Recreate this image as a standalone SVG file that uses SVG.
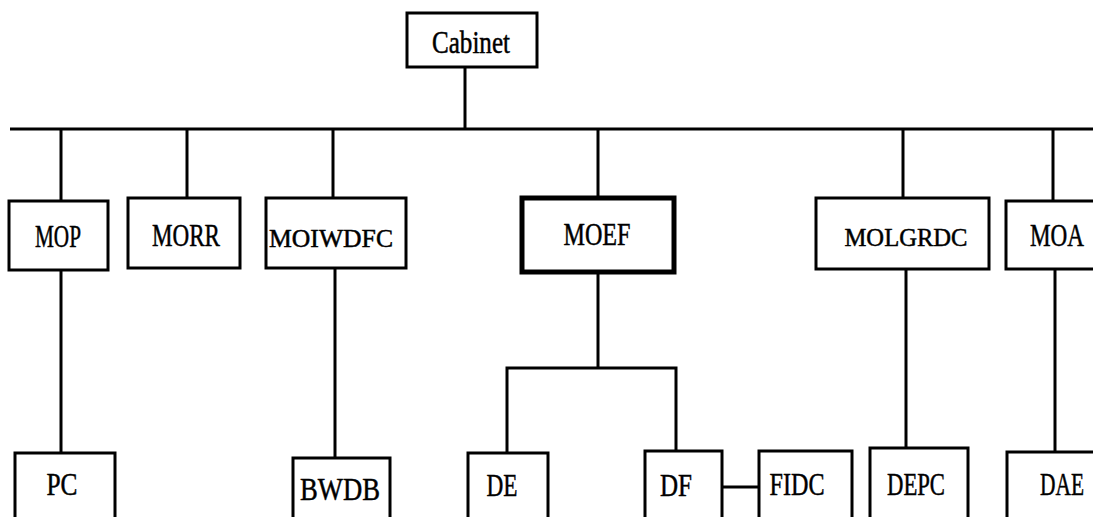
<svg xmlns="http://www.w3.org/2000/svg" width="1093" height="517" viewBox="0 0 1093 517">
<style>
.box{fill:#fff;stroke:#000;stroke-width:3}
.thick{stroke-width:5}
.ln{fill:none;stroke:#000;stroke-width:3}
.t{font-family:"Liberation Serif","Times New Roman",serif;font-size:32px;fill:#000;stroke:#000;stroke-width:0.5;text-anchor:middle}
.s{font-size:26px}
</style>
<rect width="1093" height="517" fill="#fff"/>
<g id="connectors">
<line class="ln" x1="465" y1="67" x2="465" y2="129"/>
<line class="ln" x1="10" y1="129" x2="1093" y2="129"/>
<line class="ln" x1="61" y1="129" x2="61" y2="201"/>
<line class="ln" x1="187" y1="129" x2="187" y2="198"/>
<line class="ln" x1="333" y1="129" x2="333" y2="198"/>
<line class="ln" x1="598" y1="129" x2="598" y2="198"/>
<line class="ln" x1="903" y1="129" x2="903" y2="198"/>
<line class="ln" x1="1053" y1="129" x2="1053" y2="201"/>
<line class="ln" x1="61" y1="270" x2="61" y2="453"/>
<line class="ln" x1="335" y1="268" x2="335" y2="458"/>
<line class="ln" x1="598" y1="272" x2="598" y2="368"/>
<polyline class="ln" points="507,453 507,368 676,368 676,451"/>
<line class="ln" x1="906" y1="269" x2="906" y2="448"/>
<line class="ln" x1="1055" y1="269" x2="1055" y2="452"/>
<line class="ln" x1="722" y1="487" x2="759" y2="487"/>
</g>
<g id="cabinet"><rect class="box" x="407" y="13" width="130" height="54"/><text class="t" x="471" y="53" textLength="78" lengthAdjust="spacingAndGlyphs">Cabinet</text></g>
<g id="mop"><rect class="box" x="9" y="201" width="99" height="69"/><text class="t" x="58" y="247" textLength="46" lengthAdjust="spacingAndGlyphs">MOP</text></g>
<g id="morr"><rect class="box" x="128" y="198" width="112" height="70"/><text class="t" x="186" y="246" textLength="68" lengthAdjust="spacingAndGlyphs">MORR</text></g>
<g id="moiwdfc"><rect class="box" x="266" y="198" width="140" height="70"/><text class="t s" x="331" y="247" textLength="124" lengthAdjust="spacingAndGlyphs">MOIWDFC</text></g>
<g id="moef"><rect class="box thick" x="522" y="198" width="152" height="74"/><text class="t" x="597" y="245" textLength="67" lengthAdjust="spacingAndGlyphs">MOEF</text></g>
<g id="molgrdc"><rect class="box" x="816" y="198" width="173" height="71"/><text class="t s" x="906" y="246" textLength="123" lengthAdjust="spacingAndGlyphs">MOLGRDC</text></g>
<g id="moa"><rect class="box" x="1006" y="201" width="100" height="68"/><text class="t" x="1057" y="246" textLength="54" lengthAdjust="spacingAndGlyphs">MOA</text></g>
<g id="pc"><rect class="box" x="15" y="453" width="100" height="80"/><text class="t" x="62" y="495" textLength="31" lengthAdjust="spacingAndGlyphs">PC</text></g>
<g id="bwdb"><rect class="box" x="293" y="458" width="97" height="80"/><text class="t" x="340" y="500" textLength="80" lengthAdjust="spacingAndGlyphs">BWDB</text></g>
<g id="de"><rect class="box" x="468" y="453" width="80" height="80"/><text class="t" x="502" y="496" textLength="31" lengthAdjust="spacingAndGlyphs">DE</text></g>
<g id="df"><rect class="box" x="645" y="451" width="77" height="80"/><text class="t" x="676" y="496" textLength="32" lengthAdjust="spacingAndGlyphs">DF</text></g>
<g id="fidc"><rect class="box" x="759" y="451" width="93" height="80"/><text class="t" x="797" y="495" textLength="55" lengthAdjust="spacingAndGlyphs">FIDC</text></g>
<g id="depc"><rect class="box" x="870" y="448" width="98" height="80"/><text class="t" x="916" y="495" textLength="58" lengthAdjust="spacingAndGlyphs">DEPC</text></g>
<g id="dae"><rect class="box" x="1007" y="452" width="100" height="80"/><text class="t" x="1062" y="495" textLength="44" lengthAdjust="spacingAndGlyphs">DAE</text></g>
</svg>
